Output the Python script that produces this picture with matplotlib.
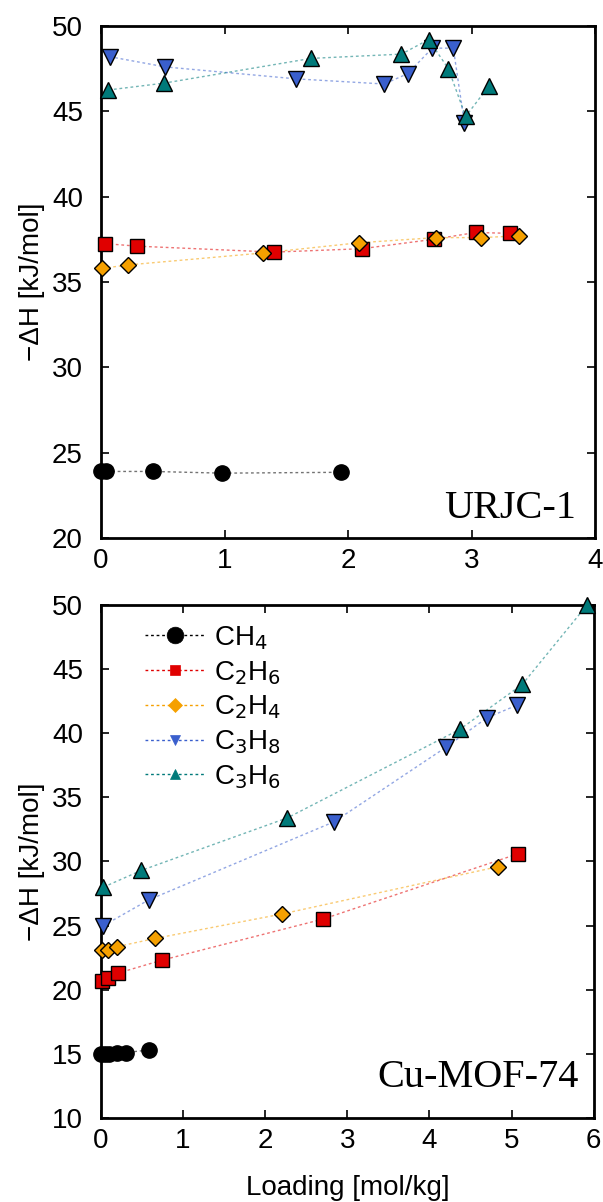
import numpy as np
import matplotlib.pyplot as plt
from matplotlib.lines import Line2D

plt.rcParams['font.family'] = ['Liberation Sans', 'DejaVu Sans']

# ---- URJC-1 (top panel) ----
u_ch4_x = [0.0, 0.04, 0.42, 0.98, 1.94]
u_ch4_y = [23.9, 23.9, 23.9, 23.8, 23.85]
u_c2h6_x = [0.03, 0.29, 1.40, 2.11, 2.69, 3.03, 3.31]
u_c2h6_y = [37.25, 37.1, 36.75, 36.95, 37.5, 37.9, 37.85]
u_c2h4_x = [0.01, 0.22, 1.31, 2.09, 2.71, 3.07, 3.38]
u_c2h4_y = [35.8, 36.0, 36.7, 37.3, 37.6, 37.6, 37.7]
u_c3h8_x = [0.07, 0.52, 1.58, 2.29, 2.48, 2.68, 2.85, 2.94]
u_c3h8_y = [48.2, 47.6, 46.9, 46.6, 47.2, 48.7, 48.7, 44.3]
u_c3h6_x = [0.06, 0.51, 1.70, 2.43, 2.65, 2.81, 2.95, 3.14]
u_c3h6_y = [46.25, 46.65, 48.1, 48.35, 49.2, 47.5, 44.7, 46.5]

# ---- Cu-MOF-74 (bottom panel) ----
c_ch4_x = [0.0, 0.05, 0.1, 0.2, 0.3, 0.58]
c_ch4_y = [15.0, 15.0, 15.0, 15.05, 15.1, 15.3]
c_c2h6_x = [0.01, 0.08, 0.21, 0.74, 2.70, 5.08]
c_c2h6_y = [20.7, 20.9, 21.3, 22.3, 25.5, 30.6]
c_c2h4_x = [0.01, 0.08, 0.19, 0.66, 2.20, 4.84]
c_c2h4_y = [23.1, 23.1, 23.35, 24.0, 25.9, 29.6]
c_c3h8_x = [0.03, 0.58, 2.84, 4.20, 4.70, 5.07]
c_c3h8_y = [25.0, 27.0, 33.1, 38.9, 41.2, 42.2]
c_c3h6_x = [0.03, 0.49, 2.27, 4.37, 5.13, 5.92]
c_c3h6_y = [28.0, 29.3, 33.4, 40.3, 43.8, 50.0]

labels = ['CH$_4$', 'C$_2$H$_6$', 'C$_2$H$_4$', 'C$_3$H$_8$', 'C$_3$H$_6$']
colors = ['black', '#e00000', '#f5a000', '#3a5fcd', '#007a7a']
markers = ['o', 's', 'D', 'v', '^']
msizes = [11, 10, 8.5, 11, 11]


def style(ax, xmax, ymin, ymax, name, tx, ty):
    ax.set_xlim(0, xmax)
    ax.set_ylim(ymin, ymax)
    ax.set_xticks(range(0, xmax + 1))
    ax.set_yticks(range(ymin, ymax + 1, 5))
    ax.tick_params(direction='in', top=True, right=True, length=6, width=1.2,
                   labelsize=20)
    ax.tick_params(axis='y', pad=13)
    ax.tick_params(axis='x', pad=7)
    for s in ax.spines.values():
        s.set_linewidth(2)
    ax.set_ylabel('−ΔH [kJ/mol]', fontsize=20, labelpad=5)
    ax.text(tx, ty, name, transform=ax.transAxes, ha='right', va='baseline',
            fontsize=29, family='Liberation Serif')


def draw(ax, xs, ys):
    for x, y, c, m, ms in zip(xs, ys, colors, markers, msizes):
        ax.plot(x, y, linestyle=(0, (2, 2)), lw=1, color=c, alpha=0.55)
        ax.plot(x, y, linestyle='none', marker=m, ms=ms, mfc=c, mec='black',
                mew=1.0, clip_on=False, zorder=3)


fig = plt.figure(figsize=(6.03, 12.02), dpi=100)

ax1 = fig.add_axes([0.1675, 0.5524, 0.820, 0.426])
draw(ax1, [u_ch4_x, u_c2h6_x, u_c2h4_x, u_c3h8_x, u_c3h6_x],
     [u_ch4_y, u_c2h6_y, u_c2h4_y, u_c3h8_y, u_c3h6_y])
style(ax1, 4, 20, 50, 'URJC-1', 0.96, 0.04)

ax2 = fig.add_axes([0.1675, 0.0699, 0.817, 0.4268])
draw(ax2, [c_ch4_x, c_c2h6_x, c_c2h4_x, c_c3h8_x, c_c3h6_x],
     [c_ch4_y, c_c2h6_y, c_c2h4_y, c_c3h8_y, c_c3h6_y])
style(ax2, 6, 10, 50, 'Cu-MOF-74', 0.97, 0.06)
ax2.set_xlabel('Loading [mol/kg]', fontsize=20, labelpad=15)

handles = []
for c, m, i in zip(colors, markers, range(5)):
    handles.append(Line2D([], [], linestyle=(0, (2, 2)), lw=1,
                          color=c, alpha=1, marker=m,
                          ms=12 if i == 0 else 7, mfc=c,
                          mec=c, mew=0.5))
leg = ax2.legend(handles, labels, loc='upper left', frameon=False,
                 fontsize=20, handlelength=2.2, handletextpad=0.3,
                 labelspacing=0.25, borderaxespad=0.2,
                 bbox_to_anchor=(0.055, 0.995))

fig.savefig('out.png', dpi=100)
